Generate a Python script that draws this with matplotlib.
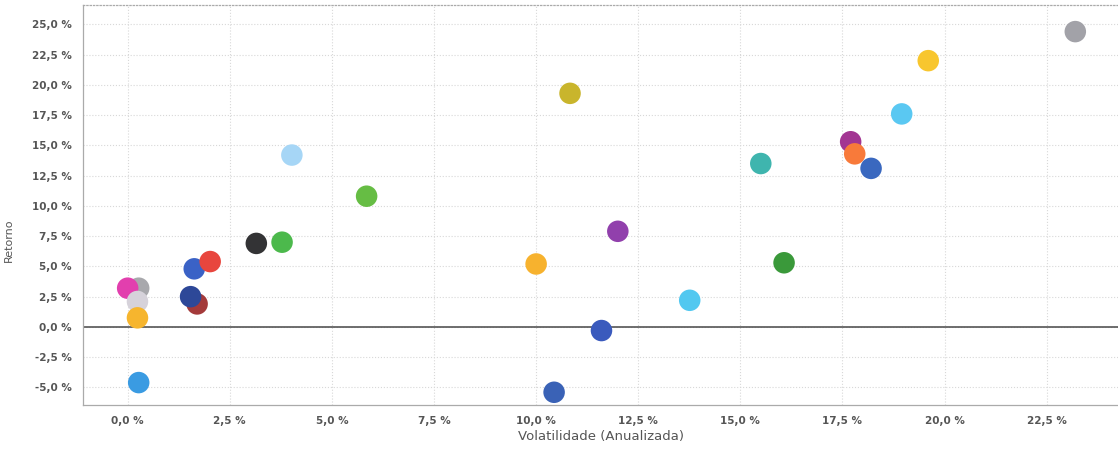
import numpy as np
import matplotlib
matplotlib.use('Agg')
import matplotlib.pyplot as plt
from matplotlib.ticker import FuncFormatter

# volatilidade (%), retorno (%), cor
vol = [0.27, 0.0, 0.24, 0.24, 0.27, 1.70, 1.54, 1.63, 2.02, 3.15, 3.78,
       4.02, 5.85, 10.83, 12.0, 10.0, 13.76, 11.6, 10.44,
       23.2, 19.6, 18.95, 17.7, 17.8, 18.2, 15.5, 16.07]
ret = [3.2, 3.2, 2.1, 0.75, -4.6, 1.9, 2.5, 4.8, 5.4, 6.9, 7.0,
       14.2, 10.8, 19.3, 7.9, 5.2, 2.2, -0.3, -5.4,
       24.4, 22.0, 17.6, 15.3, 14.3, 13.1, 13.5, 5.3]
cores = ['#a8a8ac', '#e23fae', '#d6d2da', '#f6b52e', '#3a9be2', '#a43a3a',
         '#2d4898', '#3a62c6', '#e8463e', '#333335', '#4cb94c',
         '#a6d6f6', '#66bd44', '#c9b52c', '#9140ac', '#f7b22e', '#52c8f0',
         '#3a5abd', '#3a62b6', '#a2a2a8', '#f8c62e', '#5ac8f2', '#a23592',
         '#f87a3a', '#3a68bf', '#3fb5ae', '#3a993a']

xticks = np.arange(0, 25, 2.5)
yticks = np.arange(-5, 27.5, 2.5)

fig = plt.figure(figsize=(11.18, 4.53), dpi=100)
ax = fig.add_axes([0.074, 0.106, 0.928, 0.883])

ax.scatter(vol, ret, s=240, c=cores, edgecolors='none', zorder=3)
ax.axhline(0, color='#555555', lw=1.2, zorder=2)

ax.set_xlim(-1.1, 24.3)
ax.set_ylim(-6.45, 26.6)
ax.set_xticks(xticks)
ax.set_yticks(yticks)
fmt = FuncFormatter(lambda v, p: ('%.1f %%' % v).replace('.', ','))
ax.xaxis.set_major_formatter(fmt)
ax.yaxis.set_major_formatter(fmt)
ax.tick_params(labelsize=7.5, colors='#555555', length=0, pad=8)
for t in ax.get_xticklabels() + ax.get_yticklabels():
    t.set_fontweight('bold')

ax.grid(True, color='#d8d8d8', ls=':', lw=0.8, zorder=0)
for s in ax.spines.values():
    s.set_color('#aaaaaa')
    s.set_linewidth(0.9)
ax.spines['top'].set_linestyle(':')
ax.spines['right'].set_visible(False)

ax.set_xlabel('Volatilidade (Anualizada)', fontsize=9.5, color='#555555', labelpad=3)
fig.text(0.008, 0.47, 'Retorno', rotation=90, fontsize=8, color='#555555',
         ha='center', va='center')

fig.savefig('out.png', dpi=100)
